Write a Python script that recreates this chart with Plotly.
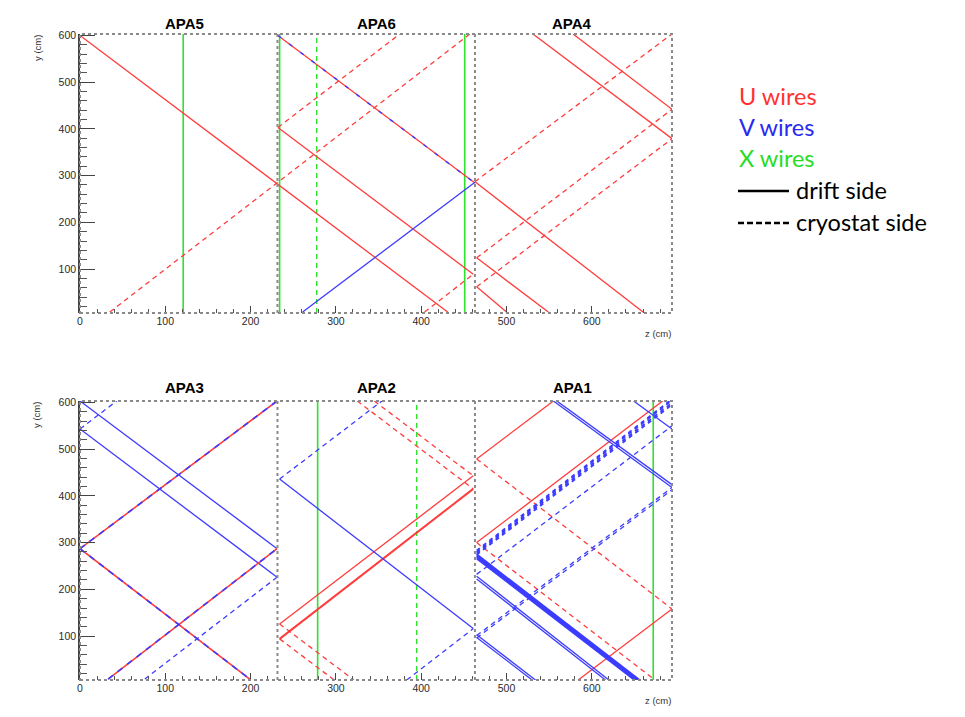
import plotly.graph_objects as go

# ---------------- figure geometry (page pixels; page body has an 8px margin) ----------------
OFF = 8
FW, FH = 965 - 2 * OFF, 717 - 2 * OFF
PL, PR, PT, PB = 80, 672, 34, 680          # plot area in page pixels
ML, MT = PL - OFF, PT - OFF
MR, MB = FW - (PR - OFF), FH - (PB - OFF)
PW, PH = PR - PL, PB - PT


def px(x):
    return (x - PL) / PW


def py(y):
    return (PB - y) / PH


# ---------------- axis data ----------------
Z_RANGE = [0, 694]
Y_RANGE = [6, 603]
APA_EDGES = [231.5, 463]
TOP_TITLES = ["APA5", "APA6", "APA4"]
BOT_TITLES = ["APA3", "APA2", "APA1"]
TITLE_Z = [123, 347, 577]

# ---------------- wire segments (z0, y0, z1, y1) in cm ----------------
# top row: APA5 | APA6 | APA4
TOP_U_DRIFT = [
    (0, 600, 431, 8),
    (232, 403, 461, 89),
    (232, 600, 463, 284),
    (463, 287, 660, 8),
    (531, 603, 694, 379),
    (578, 603, 694, 442),
    (465, 124, 549, 8),
    (465, 62, 500, 8),
]
TOP_U_CRYO = [
    (35, 8, 457, 603),
    (232, 403, 375, 603),
    (404, 8, 461, 89),
    (463, 287, 694, 603),
    (465, 124, 694, 442),
    (465, 62, 694, 379),
]
TOP_V_DRIFT = [(261, 8, 463, 286)]
TOP_V_OVERLAP = [(232, 600, 463, 284)]
TOP_X_DRIFT = [121, 234, 451]
TOP_X_CRYO = [277.5]

# bottom row: APA3 | APA2 | APA1
BOT_UV_OVERLAP = [
    (0, 287, 231, 603),
    (0, 287, 199, 8),
    (33, 8, 231, 287),
]
BOT_V_DRIFT = [
    (0, 603, 231, 287),
    (0, 543, 231, 226),
    (234, 436, 461, 116),
    (465, 228, 620, 6),
    (465, 222, 616, 6),
    (465, 103, 534, 6),
    (465, 97, 530, 6),
    (555, 603, 694, 418),
    (559, 603, 694, 424),
    (649, 603, 694, 543),
]
BOT_V_DRIFT_BUNDLE = [
    (465, 275, 656, 6),
    (465, 272, 654, 6),
    (465, 269, 652, 6),
    (465, 266, 650, 6),
]
BOT_V_CRYO = [
    (0, 543, 43, 603),
    (76, 8, 231, 226),
    (234, 436, 354, 603),
    (383, 6, 461, 116),
    (465, 232, 694, 550),
    (465, 101, 694, 418),
    (465, 96, 694, 413),
]
BOT_V_CRYO_BUNDLE = [
    (465, 283, 691, 603),
    (465, 280, 693, 603),
    (465, 277, 694, 599),
    (465, 274, 694, 595),
]
BOT_U_DRIFT = [
    (234, 126, 461, 443),
    (465, 479, 555, 603),
    (465, 300, 683, 603),
    (584, 6, 694, 158),
]
BOT_U_DRIFT_BOLD = [(234, 94, 461, 415)]
BOT_U_CRYO = [
    (234, 126, 321, 6),
    (234, 94, 298, 6),
    (345, 603, 461, 443),
    (325, 603, 461, 415),
    (465, 479, 694, 158),
    (465, 300, 672, 9),
]
BOT_X_DRIFT = [278.6, 672]
BOT_X_CRYO = [394.7]

# ---------------- styles ----------------
RED = "rgb(255,60,60)"
BLUE = "rgb(60,60,255)"
GREEN = "rgb(45,225,45)"
DASH = "5px,4px"

fig = go.Figure()


def seg_xy(segs):
    xs, ys = [], []
    for z0, y0, z1, y1 in segs:
        xs += [z0, z1, None]
        ys += [y0, y1, None]
    return xs, ys


def vert_segs(zs):
    return [(z, Y_RANGE[0], z, Y_RANGE[1]) for z in zs]


def add(segs, row, color, dash="solid", width=1.3):
    xs, ys = seg_xy(segs)
    fig.add_trace(go.Scatter(
        x=xs, y=ys, mode="lines",
        xaxis="x" if row == 1 else "x2",
        yaxis="y" if row == 1 else "y2",
        line=dict(color=color, width=width, dash=dash),
        hoverinfo="skip", showlegend=False,
    ))


# top panel
add(vert_segs(TOP_X_DRIFT), 1, GREEN, width=1.6)
add(vert_segs(TOP_X_CRYO), 1, GREEN, DASH, 1.4)
add(TOP_U_DRIFT, 1, RED)
add(TOP_U_CRYO, 1, RED, DASH)
add(TOP_V_DRIFT, 1, BLUE)
add(TOP_V_OVERLAP, 1, BLUE, "4px,10px", 1.4)

# bottom panel
add(vert_segs(BOT_X_DRIFT), 2, GREEN, width=1.6)
add(vert_segs(BOT_X_CRYO), 2, GREEN, DASH, 1.4)
add(BOT_U_DRIFT, 2, RED)
add(BOT_U_DRIFT_BOLD, 2, RED, width=2.0)
add(BOT_U_CRYO, 2, RED, DASH)
add(BOT_V_DRIFT, 2, BLUE)
add(BOT_V_DRIFT_BUNDLE, 2, BLUE, width=1.8)
add(BOT_V_CRYO, 2, BLUE, DASH)
add(BOT_V_CRYO_BUNDLE, 2, BLUE, "4px,4px", 1.8)
add(BOT_UV_OVERLAP, 2, RED, width=1.6)
add(BOT_UV_OVERLAP, 2, BLUE, "6px,6px", 1.6)

tickfont = dict(family="Liberation Sans", size=10.5, color="#2a2a2a")


def xaxis_cfg(anchor):
    return dict(
        domain=[0, 1], anchor=anchor, range=Z_RANGE,
        tick0=0, dtick=100, ticks="inside", ticklen=7, tickwidth=1,
        tickcolor="#444", tickfont=tickfont,
        minor=dict(ticks="inside", ticklen=4, dtick=20, tick0=0, tickcolor="#555"),
        showline=False, showgrid=False, zeroline=False,
    )


def yaxis_cfg(anchor, dom):
    return dict(
        domain=dom, anchor=anchor, range=Y_RANGE,
        tick0=0, dtick=100, ticks="inside", ticklen=15, tickwidth=1.3,
        tickcolor="#444", tickfont=tickfont,
        minor=dict(ticks="inside", ticklen=7, dtick=20, tick0=0, tickcolor="#555"),
        showline=True, linecolor="#444", linewidth=1.5,
        showgrid=False, zeroline=False,
    )


top_dom = [py(313), 1]
bot_dom = [0, py(401)]

shapes = []
for xa, ya in (("x", "y"), ("x2", "y2")):
    shapes.append(dict(type="rect", xref=xa + " domain", yref=ya + " domain",
                       x0=0, x1=1, y0=0, y1=1,
                       line=dict(color="#8a8a8a", width=2, dash="dot")))
    for e in APA_EDGES:
        shapes.append(dict(type="line", xref=xa, yref=ya + " domain",
                           x0=e, x1=e, y0=0, y1=1,
                           line=dict(color="#8a8a8a", width=2, dash="dot")))

annotations = []


def note(text, x, y, size, color="#333", xanchor="center", family="Liberation Sans",
         xref="paper", angle=0):
    annotations.append(dict(text=text, x=x, y=y, xref=xref, yref="paper",
                            xanchor=xanchor, yanchor="middle", textangle=angle,
                            showarrow=False,
                            font=dict(family=family, size=size, color=color)))


for names, ytop, xa in ((TOP_TITLES, 23, "x"), (BOT_TITLES, 387, "x2")):
    for name, z in zip(names, TITLE_Z):
        note("<b>%s</b>" % name, z, py(ytop), 15, "black", xref=xa)
for yc in (48, 415):
    note("y (cm)", px(37), py(yc), 9.5, angle=-90)
for yc in (333, 700):
    note("z (cm)", px(673), py(yc), 9.5, xanchor="right")

# legend (text block at right)
LEG_ITEMS = [("U wires", "rgb(255,50,50)", 737, 96),
             ("V wires", "rgb(40,40,240)", 737, 127),
             ("X wires", "rgb(40,220,40)", 737, 158),
             ("drift side", "black", 794, 190),
             ("cryostat side", "black", 794, 222)]
for txt, col, x0, yc in LEG_ITEMS:
    note(txt, px(x0), py(yc), 23.5, col, xanchor="left", family="Lato")
shapes.append(dict(type="line", xref="paper", yref="paper",
                   x0=px(738), x1=px(789), y0=py(191), y1=py(191),
                   line=dict(color="black", width=2.5)))
shapes.append(dict(type="line", xref="paper", yref="paper",
                   x0=px(738), x1=px(789), y0=py(223), y1=py(223),
                   line=dict(color="black", width=2.5, dash="6px,3px")))

fig.update_layout(
    width=FW, height=FH,
    margin=dict(l=ML, r=MR, t=MT, b=MB, pad=0),
    paper_bgcolor="white", plot_bgcolor="white",
    xaxis=xaxis_cfg("y"), yaxis=yaxis_cfg("x", top_dom),
    xaxis2=xaxis_cfg("y2"), yaxis2=yaxis_cfg("x2", bot_dom),
    shapes=shapes, annotations=annotations, showlegend=False,
)

fig.write_html("out.html")
